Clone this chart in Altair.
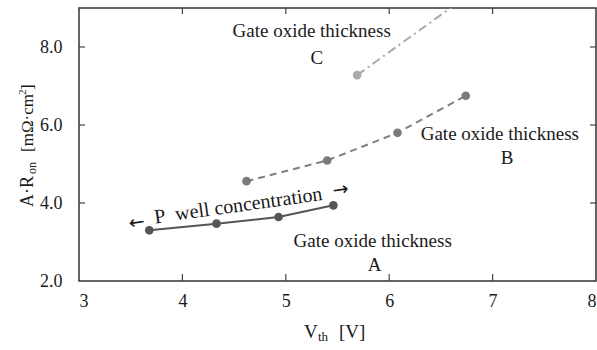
import altair as alt
import pandas as pd

# ---- data ----
a_x = [3.68, 4.33, 4.93, 5.46]
a_y = [3.30, 3.47, 3.64, 3.94]
b_x = [4.62, 5.40, 6.08, 6.74]
b_y = [4.56, 5.09, 5.80, 6.75]
c_x = [5.69, 6.75]
c_y = [7.28, 9.30]
c_dot = [True, False]

x_ticks = [3, 4, 5, 6, 7, 8]
y_ticks = [2, 4, 6, 8]

ann_text = ["Gate oxide thickness", "C", "Gate oxide thickness", "B",
            "Gate oxide thickness", "A"]
ann_x = [5.25, 5.30, 7.07, 7.14, 5.84, 5.86]
ann_y = [8.42, 7.72, 5.78, 5.15, 3.02, 2.40]

conc_text = ["P\u00a0\u00a0well concentration"]
conc_x = [4.54]
conc_y = [3.93]

arrow_text = ["\u2190", "\u2192"]
arrow_x = [3.56, 5.53]
arrow_y = [3.50, 4.34]

FONT = "'Liberation Serif', 'Times New Roman', 'DejaVu Serif', serif"
W, H = 517, 273
TXT = "#1a1a1a"

xs = alt.Scale(domain=[3, 8], nice=False, zero=False)
ys = alt.Scale(domain=[2, 9], nice=False, zero=False)

dfa = pd.DataFrame({"x": a_x, "y": a_y})
dfb = pd.DataFrame({"x": b_x, "y": b_y})
dfc = pd.DataFrame({"x": c_x, "y": c_y, "dot": c_dot})

x_axis = alt.Axis(values=x_ticks, format="d", title=None, ticks=False, tickSize=0,
                  labelPadding=11, labelFontSize=18, labelFont=FONT,
                  labelColor=TXT, domain=False, grid=False)
y_axis = alt.Axis(values=y_ticks, format=".1f", title=None, ticks=False, tickSize=0,
                  labelPadding=17, labelFontSize=18, labelFont=FONT,
                  labelColor=TXT, domain=False, grid=False)

base_a = alt.Chart(dfa).encode(x=alt.X("x:Q", scale=xs, axis=x_axis),
                               y=alt.Y("y:Q", scale=ys, axis=y_axis))
line_a = base_a.mark_line(color="#555555", strokeWidth=2)
pts_a = base_a.mark_circle(color="#555555", size=75, opacity=1)

base_b = alt.Chart(dfb).encode(x=alt.X("x:Q", scale=xs), y=alt.Y("y:Q", scale=ys))
line_b = base_b.mark_line(color="#808080", strokeWidth=2, strokeDash=[7, 5])
pts_b = base_b.mark_circle(color="#7a7a7a", size=75, opacity=1)

base_c = alt.Chart(dfc).encode(x=alt.X("x:Q", scale=xs), y=alt.Y("y:Q", scale=ys))
line_c = base_c.mark_line(color="#aaaaaa", strokeWidth=2, strokeDash=[9, 4, 2, 4], clip=True)
pts_c = base_c.transform_filter("datum.dot").mark_circle(color="#aaaaaa", size=75, opacity=1)

dfann = pd.DataFrame({"t": ann_text, "x": ann_x, "y": ann_y})
ann = alt.Chart(dfann).mark_text(font=FONT, fontSize=19, color=TXT,
                                 align="center", baseline="middle").encode(
    x=alt.X("x:Q", scale=xs), y=alt.Y("y:Q", scale=ys), text="t:N")

dfconc = pd.DataFrame({"t": conc_text, "x": conc_x, "y": conc_y})
conc = alt.Chart(dfconc).mark_text(font=FONT, fontSize=20, color=TXT, angle=352,
                                   align="center", baseline="middle").encode(
    x=alt.X("x:Q", scale=xs), y=alt.Y("y:Q", scale=ys), text="t:N")

dfarr = pd.DataFrame({"t": arrow_text, "x": arrow_x, "y": arrow_y})
arr = alt.Chart(dfarr).mark_text(font="DejaVu Sans", fontSize=19, color=TXT, angle=352,
                                 align="center", baseline="middle").encode(
    x=alt.X("x:Q", scale=xs), y=alt.Y("y:Q", scale=ys), text="t:N")

# inward ticks
inner_x = [v for v in x_ticks[1:-1]]
inner_y = [v for v in y_ticks[1:]]
dfxt = pd.DataFrame({"v": inner_x})
dfyt = pd.DataFrame({"v": inner_y})
tick_col = "#444"
xt_bot = alt.Chart(dfxt).mark_rule(color=tick_col, strokeWidth=1.2).encode(
    x=alt.X("v:Q", scale=xs), y=alt.value(H), y2=alt.value(H - 7))
xt_top = alt.Chart(dfxt).mark_rule(color=tick_col, strokeWidth=1.2).encode(
    x=alt.X("v:Q", scale=xs), y=alt.value(0), y2=alt.value(6))
yt_left = alt.Chart(dfyt).mark_rule(color=tick_col, strokeWidth=1.2).encode(
    y=alt.Y("v:Q", scale=ys), x=alt.value(0), x2=alt.value(6))
yt_right = alt.Chart(dfyt).mark_rule(color=tick_col, strokeWidth=1.2).encode(
    y=alt.Y("v:Q", scale=ys), x=alt.value(W - 6), x2=alt.value(W))

# axis titles built from pieces (sub/superscripts)
def txt(t, x, y, size, angle=0):
    d = pd.DataFrame({"t": [t]})
    kw = dict(font=FONT, fontSize=size, color=TXT, align="left", baseline="alphabetic")
    if angle:
        kw["angle"] = angle
    return alt.Chart(d).mark_text(**kw).encode(text="t:N", x=alt.value(x), y=alt.value(y))

xt1 = txt("V", 225, 330, 19)
xt2 = txt("th", 239, 333, 13)
xt3 = txt("[V]", 260, 330, 19)

yt1 = txt("A\u00b7R", -46, 199, 18, 270)
yt2 = txt("on", -43, 166, 12, 270)
yt3 = txt("[m\u03a9\u00b7cm", -46, 144, 17, 270)
yt4 = txt("2", -53, 87, 11, 270)
yt5 = txt("]", -46, 82, 17, 270)

chart = alt.layer(
    line_a, line_b, line_c, pts_a, pts_b, pts_c, ann, conc, arr,
    xt_bot, xt_top, yt_left, yt_right,
    xt1, xt2, xt3, yt1, yt2, yt3, yt4, yt5
).properties(
    width=W, height=H,
    autosize=alt.AutoSizeParams(type="none"),
    padding={"left": 79, "top": 8, "right": 1, "bottom": 69},
    background="white"
).configure_view(stroke="#333333", strokeWidth=1.5)

chart.save("out.html", embed_options={"renderer": "svg", "actions": False})
